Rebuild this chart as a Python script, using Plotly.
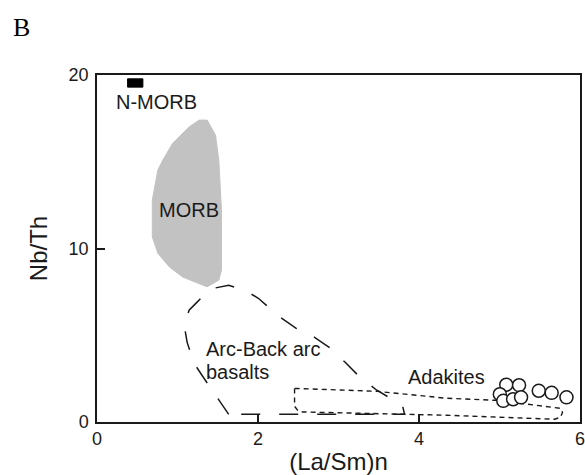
import plotly.graph_objects as go

# --- data ---
nmorb_x = [0.38, 0.57, 0.57, 0.38, 0.38]
nmorb_y = [19.30, 19.30, 19.78, 19.78, 19.30]

morb_x = [1.269, 1.369, 1.472, 1.513, 1.546, 1.546, 1.513, 1.366, 1.063, 0.899,
          0.756, 0.687, 0.687, 0.736, 0.756, 0.817, 0.940, 1.145, 1.269]
morb_y = [17.40, 17.40, 16.53, 15.09, 12.21, 8.75, 8.17, 7.79, 8.36, 8.94,
          9.73, 10.67, 12.79, 14.13, 14.52, 15.09, 16.06, 17.01, 17.40]

arc_x = [1.636, 1.488, 1.329, 1.206, 1.120, 1.083, 1.144, 1.231, 1.329, 1.451,
         1.636, 1.856, 2.004, 2.274, 2.470, 2.703, 2.899, 3.083, 3.267, 3.476,
         3.697, 3.795, 3.820, 1.636]
arc_y = [0.44, 1.42, 2.52, 3.38, 4.59, 5.58, 6.44, 6.85, 7.31, 7.71,
         7.88, 7.54, 7.13, 6.04, 5.41, 4.88, 4.25, 3.44, 2.58, 1.83,
         1.25, 0.96, 0.44, 0.44]

adakite_x = [2.454, 2.454, 2.494, 2.555, 4.335, 5.684, 5.758, 5.783, 5.758,
             5.439, 4.948, 4.335, 3.476, 2.494, 2.454]
adakite_y = [1.93, 0.91, 0.67, 0.58, 0.39, 0.16, 0.27, 0.56, 0.79,
             0.96, 1.25, 1.37, 1.77, 1.93, 1.93]

sample_x = [5.084, 5.243, 5.004, 5.047, 5.169, 5.268, 5.488, 5.648, 5.832]
sample_y = [2.15, 2.12, 1.60, 1.22, 1.31, 1.42, 1.80, 1.68, 1.42]

x_ticks = [0, 2, 4, 6]
y_ticks = [0, 10, 20]

labels = [
    dict(text="N-MORB", x=0.74, y=18.46, xanchor="center"),
    dict(text="MORB", x=1.145, y=12.2, xanchor="center"),
    dict(text="Arc-Back arc", x=1.329, y=4.23, xanchor="left"),
    dict(text="basalts", x=1.329, y=2.88, xanchor="left"),
    dict(text="Adakites", x=4.343, y=2.60, xanchor="center"),
]

FONT = "Liberation Sans, Arial, sans-serif"
INK = "#1a1a1a"

ML, MR, MT, MB = 97, 5, 75, 53
PW = 585 - ML - MR
PH = 475 - MT - MB

fig = go.Figure()

fig.add_trace(go.Scatter(x=morb_x, y=morb_y, mode="lines", fill="toself",
                         fillcolor="#c2c2c2", line=dict(color="#c2c2c2", width=1),
                         hoverinfo="skip"))
fig.add_trace(go.Scatter(x=nmorb_x, y=nmorb_y, mode="lines", fill="toself",
                         fillcolor="black", line=dict(color="black", width=1),
                         hoverinfo="skip"))
fig.add_trace(go.Scatter(x=arc_x, y=arc_y, mode="lines",
                         line=dict(color=INK, width=1.5, dash="19px,19px"),
                         hoverinfo="skip"))
fig.add_trace(go.Scatter(x=adakite_x, y=adakite_y, mode="lines",
                         line=dict(color=INK, width=1.4, dash="5px,4px"),
                         hoverinfo="skip"))
fig.add_trace(go.Scatter(x=sample_x, y=sample_y, mode="markers",
                         marker=dict(symbol="circle", size=13, color="white",
                                     line=dict(color=INK, width=1.5))))

for lab in labels:
    fig.add_annotation(text=lab["text"], x=lab["x"], y=lab["y"], xref="x", yref="y",
                       xanchor=lab["xanchor"], yanchor="middle", showarrow=False,
                       font=dict(family=FONT, size=20, color=INK))

fig.add_annotation(text="B", x=(21 - ML) / PW, y=(475 - MB - 27) / PH,
                   xref="paper", yref="paper", xanchor="center", yanchor="middle",
                   showarrow=False,
                   font=dict(family="Liberation Serif, Times New Roman, serif", size=26, color="black"))

fig.update_layout(
    width=585, height=475,
    margin=dict(l=ML, r=MR, t=MT, b=MB, pad=0),
    paper_bgcolor="white", plot_bgcolor="white",
    showlegend=False,
    font=dict(family=FONT, color=INK),
)
fig.update_xaxes(range=[0, 6], tickvals=x_ticks, ticktext=[str(v) for v in x_ticks],
                 automargin=False,
                 showgrid=False, zeroline=False, showline=True, mirror=True,
                 linecolor=INK, linewidth=1.5, ticks="inside", ticklen=8,
                 tickcolor=INK, tickwidth=1.5, tickfont=dict(size=18, family=FONT),
                 ticklabeloverflow="allow",
                 title=dict(text="(La/Sm)n", font=dict(size=24, family=FONT), standoff=8))
fig.update_yaxes(range=[0, 20], tickvals=y_ticks, ticktext=[str(v) for v in y_ticks],
                 automargin=False,
                 showgrid=False, zeroline=False, showline=True, mirror=True,
                 linecolor=INK, linewidth=1.5, ticks="inside", ticklen=8,
                 tickcolor=INK, tickwidth=1.5, tickfont=dict(size=18, family=FONT),
                 ticklabelstandoff=3,
                 title=dict(text="Nb/Th", font=dict(size=24, family=FONT), standoff=14))

fig.write_html("out.html")
